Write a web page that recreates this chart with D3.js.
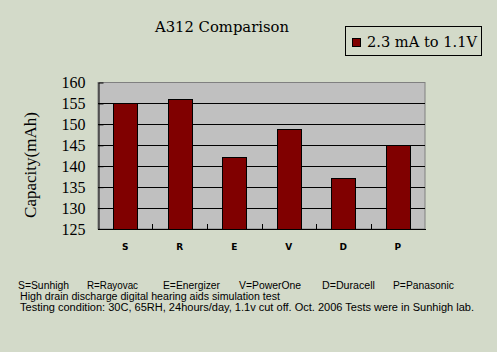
<!DOCTYPE html>
<html>
<head>
<meta charset="utf-8">
<script src="https://cdn.jsdelivr.net/npm/d3@7"></script>
<style>
  body { margin: 0; background: #d3dac9; }
  svg { display: block; }
</style>
</head>
<body>
<div id="chart"></div>
<script>
// data
var categories = ["S", "R", "E", "V", "D", "P"];
var brands = ["Sunhigh", "Rayovac", "Energizer", "PowerOne", "Duracell", "Panasonic"];
var capacity = [155.0, 156.0, 142.1, 148.8, 137.1, 145.0];
var yTicks = [125, 130, 135, 140, 145, 150, 155, 160];
var seriesName = "2.3 mA to 1.1V";

var W = 497, H = 352;
var plot = {left: 98, right: 425, top: 82.5, bottom: 229};

var svg = d3.select("#chart")
  .append("svg")
    .attr("width", W)
    .attr("height", H);

svg.append("rect")
  .attr("width", W).attr("height", H)
  .attr("fill", "#d3dac9");

var x = d3.scaleBand()
  .domain(categories)
  .range([plot.left, plot.right])
  .paddingInner(0.565)
  .paddingOuter(0.2825);

var y = d3.scaleLinear()
  .domain([125, 160])
  .range([plot.bottom, plot.top]);

// plot area
svg.append("rect")
  .attr("x", plot.left).attr("y", plot.top)
  .attr("width", plot.right - plot.left)
  .attr("height", plot.bottom - plot.top)
  .attr("fill", "#c0c0c0")
  .attr("stroke", "#808080");

// gridlines
svg.append("g")
  .selectAll("line")
  .data(yTicks.filter(function(d) { return d > 125 && d < 160; }))
  .enter()
  .append("line")
    .attr("x1", plot.left).attr("x2", plot.right)
    .attr("y1", function(d) { return Math.round(y(d)) + 0.5; })
    .attr("y2", function(d) { return Math.round(y(d)) + 0.5; })
    .attr("stroke", "#000");

// bars
svg.append("g")
  .selectAll("rect")
  .data(capacity)
  .enter()
  .append("rect")
    .attr("x", function(d, i) { return Math.round(x(categories[i])) + 0.5; })
    .attr("y", function(d) { return Math.round(y(d)) + 0.5; })
    .attr("width", Math.round(x.bandwidth()))
    .attr("height", function(d) { return Math.round(plot.bottom) - Math.round(y(d)); })
    .attr("fill", "#800000")
    .attr("stroke", "#000");

// y axis
var yAxis = svg.append("g")
  .attr("transform", "translate(" + (plot.left + 0.5) + ",0)")
  .call(d3.axisLeft(y).tickValues(yTicks).tickSizeInner(-5).tickSizeOuter(0).tickPadding(13));
yAxis.select(".domain").attr("stroke", "#000");
yAxis.selectAll(".tick line").attr("stroke", "#000");
yAxis.selectAll(".tick text")
  .attr("fill", "#000")
  .style("font-family", "'Liberation Serif', 'Times New Roman', serif")
  .style("font-size", "16px");

// x axis: ticks between categories, pointing up
var bounds = categories.slice(1).map(function(c) { return x(c) - x.step() * x.paddingInner() / 2; });
var xg = svg.append("g");
xg.append("line")
  .attr("x1", plot.left).attr("x2", plot.right + 1)
  .attr("y1", Math.round(plot.bottom) + 0.5).attr("y2", Math.round(plot.bottom) + 0.5)
  .attr("stroke", "#000");
xg.selectAll("line.tk")
  .data(bounds)
  .enter()
  .append("line")
    .attr("class", "tk")
    .attr("x1", function(d) { return Math.round(d) + 0.5; })
    .attr("x2", function(d) { return Math.round(d) + 0.5; })
    .attr("y1", plot.bottom).attr("y2", plot.bottom - 5)
    .attr("stroke", "#000");
xg.selectAll("text")
  .data(categories)
  .enter()
  .append("text")
    .attr("x", function(d) { return x(d) + x.bandwidth() / 2; })
    .attr("y", 250)
    .attr("text-anchor", "middle")
    .style("font-family", "'DejaVu Sans', Tahoma, sans-serif")
    .style("font-size", "9px")
    .style("font-weight", "bold")
    .text(function(d) { return d; });

// y title
svg.append("text")
  .attr("transform", "translate(36,165) rotate(-90)")
  .attr("text-anchor", "middle")
  .style("font-family", "'Liberation Serif', 'Times New Roman', serif")
  .style("font-size", "17px")
  .text("Capacity(mAh)");

// title
svg.append("text")
  .attr("x", 155).attr("y", 32)
  .attr("textLength", 134)
  .attr("lengthAdjust", "spacingAndGlyphs")
  .style("font-family", "'DejaVu Serif', 'Book Antiqua', serif")
  .style("font-size", "14px")
  .text("A312 Comparison");

// legend
var lg = svg.append("g");
lg.append("rect")
  .attr("x", 345.5).attr("y", 26.5)
  .attr("width", 136).attr("height", 29)
  .attr("fill", "none").attr("stroke", "#000");
lg.append("rect")
  .attr("x", 352.5).attr("y", 38.5)
  .attr("width", 8).attr("height", 8)
  .attr("fill", "#800000").attr("stroke", "#000");
lg.append("text")
  .attr("x", 367).attr("y", 47)
  .attr("textLength", 110)
  .attr("lengthAdjust", "spacingAndGlyphs")
  .style("font-family", "'DejaVu Serif', 'Book Antiqua', serif")
  .style("font-size", "15px")
  .text(seriesName);

// footer notes
var keyX = [18, 87, 163, 239, 322, 393];
var keyW = [51, 51, 57, 62, 53, 61];
var foot = svg.append("g")
  .style("font-family", "'Liberation Sans', Tahoma, sans-serif")
  .style("font-size", "10px")
  .attr("fill", "#000");
foot.selectAll("text.key")
  .data(categories)
  .enter()
  .append("text")
    .attr("class", "key")
    .attr("x", function(d, i) { return keyX[i]; })
    .attr("y", 289)
    .attr("textLength", function(d, i) { return keyW[i]; })
    .attr("lengthAdjust", "spacingAndGlyphs")
    .text(function(d, i) { return d + "=" + brands[i]; });
foot.append("text")
  .attr("x", 20).attr("y", 299.5)
  .attr("textLength", 260).attr("lengthAdjust", "spacingAndGlyphs")
  .text("High drain discharge digital hearing aids simulation test");
foot.append("text")
  .attr("x", 20).attr("y", 310.5)
  .attr("textLength", 454).attr("lengthAdjust", "spacingAndGlyphs")
  .text("Testing condition: 30C, 65RH, 24hours/day, 1.1v cut off. Oct. 2006 Tests were in Sunhigh lab.");
</script>
</body>
</html>
